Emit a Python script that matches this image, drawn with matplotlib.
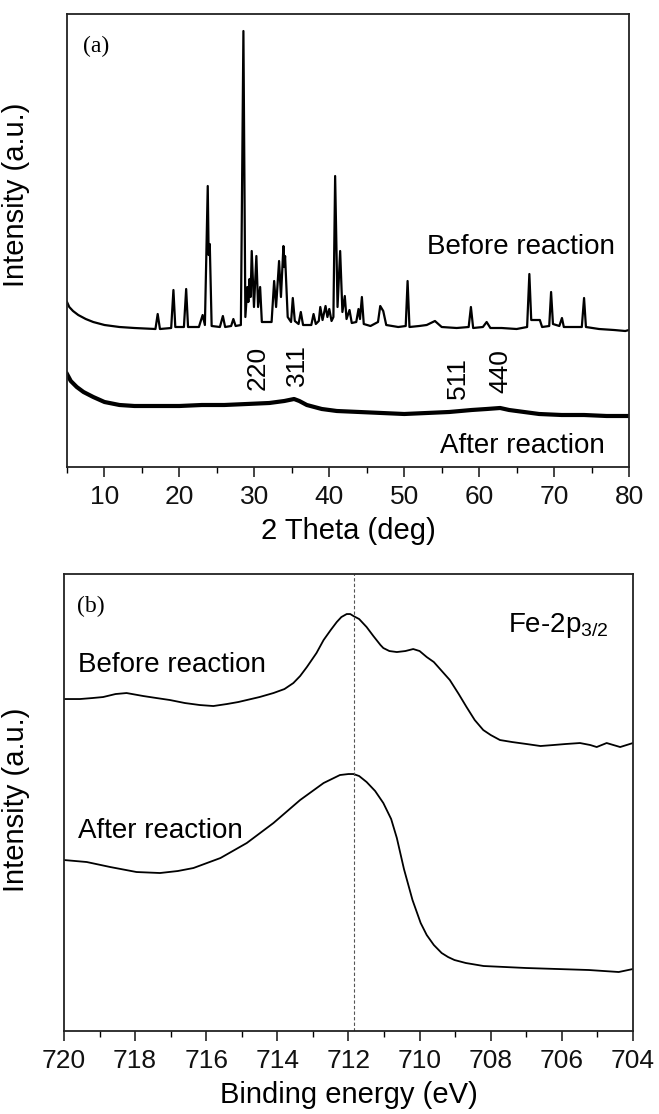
import numpy as np
import matplotlib
matplotlib.use("Agg")
import matplotlib.pyplot as plt
from matplotlib.ticker import MultipleLocator

plt.rcParams['font.family'] = ['Liberation Sans', 'DejaVu Sans']
plt.rcParams['mathtext.fontset'] = 'custom'
plt.rcParams['mathtext.rm'] = 'Liberation Sans'
plt.rcParams['mathtext.it'] = 'Liberation Sans:italic'

# (a) XRD, 2 theta (deg) vs intensity (a.u.)
tt_before = [5.0, 5.3, 5.8, 6.5, 7.5, 8.5, 10, 12, 14, 16.8,
             17.1, 17.4, 18.9, 19.2, 19.45, 20.6, 20.9, 21.15,
             22.6, 23.1, 23.4, 23.78, 23.9, 24.05, 24.3,
             25.4, 25.8, 26.1, 26.9, 27.2, 27.5,
             28.2, 28.54, 28.8, 29.07, 29.2, 29.35, 29.5, 29.65, 29.95, 30.27, 30.5, 30.77, 31.0,
             32.3, 32.64, 32.9, 33.3, 33.55, 33.88, 34.0, 34.1, 34.45, 34.9, 35.13, 35.4,
             35.9, 36.2, 36.5, 37.6, 37.9, 38.2, 38.6, 38.8, 39.1, 39.5, 39.75, 40.0, 40.3,
             40.55, 40.78, 41.1, 41.45, 41.75, 42.07, 42.3, 42.7, 43.0,
             43.6, 43.9, 44.1, 44.35, 44.6,
             45.5, 46.5, 46.8, 47.2, 47.6,
             49.2, 50.2, 50.45, 50.7,
             52, 53, 54.1, 55, 57, 58.6, 58.9, 59.2,
             60.5, 61.0, 61.5, 63, 65,
             66.4, 66.7, 66.95, 67.5, 68.1, 68.4, 69.35, 69.6, 69.85, 70.7, 71.05, 71.3,
             73.7, 74.0, 74.25, 76, 78, 79.5, 80]
i_before = [165, 160, 156, 152, 148, 145, 142, 140, 139, 138,
            153, 138, 139, 177, 140, 140, 178, 140,
            140, 152, 142, 281, 212, 223, 141,
            140, 151, 140, 141, 148, 141,
            142, 436, 150, 180, 165, 188, 170, 216, 160, 211, 160, 180, 145,
            145, 186, 160, 206, 170, 221, 200, 211, 150, 145, 169, 146,
            143, 155, 142, 142, 153, 143, 146, 160, 147, 161, 150, 158, 146,
            150, 291, 160, 216, 155, 171, 148, 157, 144,
            145, 158, 148, 170, 143,
            141, 145, 161, 156, 142,
            140, 141, 186, 140,
            141, 142, 146, 140, 139, 140, 160, 139,
            140, 145, 139, 139, 138,
            140, 193, 147, 147, 147, 140, 141, 175, 143, 141, 149, 140,
            140, 169, 140, 138, 137, 136, 137]

tt_after = [5.0, 5.5, 6.3, 7.2, 8.5, 10, 12, 14, 17, 20, 23, 26, 29, 32, 34,
            35.3, 36, 37, 39, 41, 44, 47, 50, 53, 56, 59, 61, 62.8, 64, 66,
            68, 71, 74, 77, 80]
i_after = [93, 86, 80, 75, 70, 65, 62, 61, 61, 61, 62, 62, 63, 64, 66,
           68, 66, 62, 58, 56, 55, 54, 53, 54, 55, 57, 58, 59, 57, 55,
           53, 52, 52, 51, 51]

hkl_labels = ['220', '311', '511', '440']
hkl_pos = [30.4, 35.7, 57.2, 62.8]

# (b) XPS Fe-2p3/2, binding energy (eV) vs intensity (a.u.)
be_before = [720, 719.55, 719.2, 718.9, 718.55, 718.24, 717.77, 717.4, 717.02, 716.6,
             716.18, 715.8, 715.42, 715.1, 714.86, 714.5,
             714.11, 713.8, 713.55, 713.36, 713.17, 712.9, 712.7, 712.5, 712.33,
             712.2, 712.05, 711.95, 711.86, 711.7, 711.49, 711.3, 711.1, 711.02,
             710.85, 710.64, 710.4, 710.18, 710.0, 709.8, 709.6, 709.4, 709.15,
             708.9, 708.68, 708.45, 708.21, 708.0, 707.74, 707.4, 706.99, 706.6, 706.24,
             705.9, 705.49, 705.2, 705.02, 704.74, 704.55, 704.36, 704.0]
i_be_before = [332, 332, 333, 334, 337, 338, 335, 333, 331, 328,
               326, 325, 327, 329, 331, 334,
               338, 342, 348, 355, 364, 378, 391, 401, 409,
               414, 417, 417, 415, 412, 404, 395, 386, 383,
               380, 379, 380, 382, 380, 374, 369, 361, 351,
               337, 324, 311, 301, 296, 291, 289, 287, 285, 286,
               287, 288, 286, 284, 288, 286, 284, 288]

be_after = [720, 719.36, 718.7, 717.96, 717.3, 716.8, 716.36, 715.6, 714.86, 714.11,
            713.36, 712.7, 712.24, 712.0, 711.86, 711.7, 711.49, 711.25, 711.02, 710.8,
            710.64, 710.44, 710.2, 709.97, 709.8, 709.6, 709.38, 709.2, 709.02, 708.7,
            708.2, 707.0, 705.24, 704.4, 704.0]
i_be_after = [171, 169, 164, 159, 158, 160, 163, 173, 188, 208,
              231, 248, 256, 257, 257, 255, 249, 240, 228, 212,
              193, 162, 131, 108, 96, 86, 78, 74, 71, 68,
              65, 63, 61, 59, 62]

fe_peak = 711.85

fig = plt.figure(figsize=(6.59, 11.14), dpi=100)
ax1 = fig.add_axes([0.1017, 0.5808, 0.8528, 0.4066])
ax2 = fig.add_axes([0.0971, 0.0745, 0.8634, 0.4102])

lab_fs = 21
tick_fs = 19
txt_fs = 20

# ---- panel (a)
ax1.plot(tt_before, i_before, color='black', lw=1.6)
ax1.plot(tt_after, i_after, color='black', lw=3.0)
ax1.set_xlim(5, 80)
ax1.set_ylim(0, 453)
ax1.xaxis.set_minor_locator(MultipleLocator(5))
ax1.set_xticks([10, 20, 30, 40, 50, 60, 70, 80])
ax1.set_xlabel('2 Theta (deg)', fontsize=lab_fs, labelpad=6)
ax1.set_ylabel('Intensity (a.u.)', fontsize=lab_fs)
ax1.yaxis.set_label_coords(-0.066, 0.60)
ax1.text(7.1, 421, '(a)', family=['Liberation Serif'], fontsize=17, va='center', ha='left')
ax1.text(78.1, 213, 'Before reaction', fontsize=txt_fs, ha='right', va='baseline')
ax1.text(76.7, 21, 'After reaction', fontsize=txt_fs, ha='right', va='center')
tops = [121, 123, 110, 118]
for lab, pos, top in zip(hkl_labels, hkl_pos, tops):
    ax1.text(pos, top, lab, rotation=90, fontsize=tick_fs, ha='center', va='top')

# ---- panel (b)
ax2.plot(be_before, i_be_before, color='black', lw=1.3)
ax2.plot(be_after, i_be_after, color='black', lw=1.3)
ax2.axvline(fe_peak, color='#555555', lw=0.8, ls=(0, (3, 2)))
ax2.set_xlim(720, 704)
ax2.set_ylim(0, 457)
ax2.xaxis.set_major_locator(MultipleLocator(2))
ax2.xaxis.set_minor_locator(MultipleLocator(1))
ax2.set_xlabel('Binding energy (eV)', fontsize=lab_fs, labelpad=6)
ax2.set_ylabel('Intensity (a.u.)', fontsize=lab_fs)
ax2.yaxis.set_label_coords(-0.06, 0.505)
ax2.text(719.63, 425, '(b)', family=['Liberation Serif'], fontsize=17, va='center', ha='left')
ax2.text(719.6, 359, 'Before reaction', fontsize=txt_fs, ha='left', va='baseline')
ax2.text(719.6, 193, 'After reaction', fontsize=txt_fs, ha='left', va='baseline')
ax2.text(707.51, 399, 'Fe-2p$_{3/2}$', fontsize=txt_fs, ha='left', va='baseline')

for ax in (ax1, ax2):
    ax.tick_params(axis='y', left=False, labelleft=False)
    ax.tick_params(axis='x', which='major', direction='out', length=7, width=1.1,
                   labelsize=tick_fs, pad=6, colors='#111111')
    ax.tick_params(axis='x', which='minor', direction='out', length=4, width=1.0)
    for s in ax.spines.values():
        s.set_linewidth(1.3)
        s.set_color('#222222')

fig.savefig('out.png', dpi=100)
